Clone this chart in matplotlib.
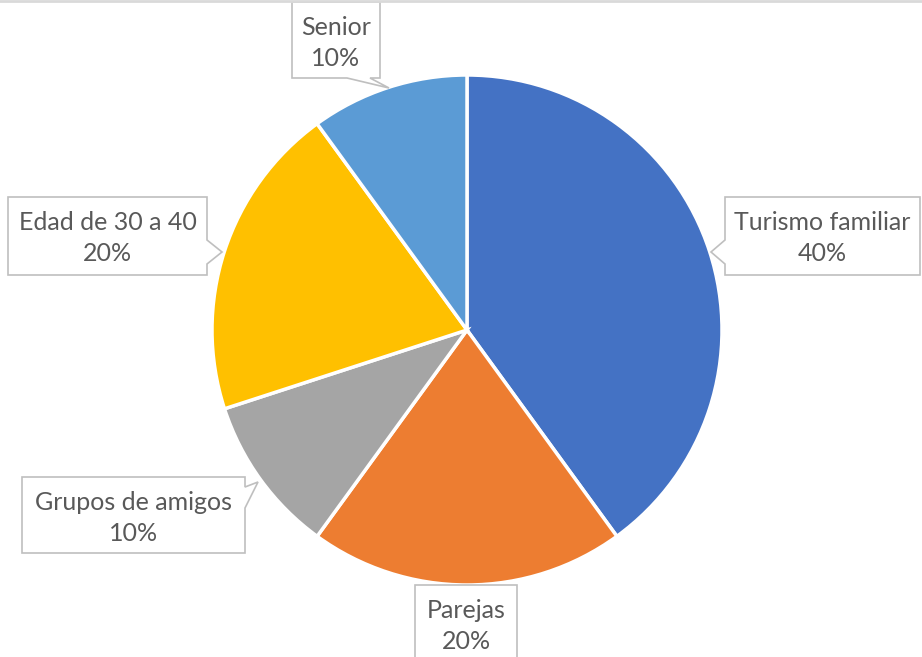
import matplotlib.pyplot as plt
from matplotlib.patches import Polygon

W, H = 922, 657

labels = ["Turismo familiar", "Parejas", "Grupos de amigos", "Edad de 30 a 40", "Senior"]
values = [40, 20, 10, 20, 10]
colors = ["#4472C4", "#ED7D31", "#A5A5A5", "#FFC000", "#5B9BD5"]

# callout boxes in pixel coords (top-down): box, side of the notch, notch span, tip
boxes = {
    "Turismo familiar": ((725, 197, 920, 275), "left", (240, 264), (711, 252)),
    "Parejas": ((415, 585, 517, 662), None, None, None),
    "Grupos de amigos": ((22, 477, 245, 553), "right", (487, 508), (258, 482)),
    "Edad de 30 a 40": ((8, 197, 207, 275), "right", (240, 264), (222, 252)),
    "Senior": ((292, 2, 380, 78), "bottom", (347, 370), (389, 88)),
}

plt.rcParams['font.family'] = ['Lato', 'DejaVu Sans']

fig = plt.figure(figsize=(W / 100, H / 100), dpi=100)
ax = fig.add_axes([0, 0, 1, 1])


def py(y):
    return H - y


ax.pie(values, colors=colors, startangle=90, counterclock=False,
       center=(467, py(330)), radius=255, frame=True,
       wedgeprops=dict(edgecolor='white', linewidth=2.5))
ax.set_xlim(0, W)
ax.set_ylim(0, H)
ax.set_aspect('equal')
ax.axis('off')


def callout(box, side, span, tip):
    x0, y0, x1, y1 = box
    if side == "left":
        pts = [(x0, y0), (x1, y0), (x1, y1), (x0, y1), (x0, span[1]), tip, (x0, span[0])]
    elif side == "right":
        pts = [(x0, y0), (x1, y0), (x1, span[0]), tip, (x1, span[1]), (x1, y1), (x0, y1)]
    elif side == "bottom":
        pts = [(x0, y0), (x1, y0), (x1, y1), (span[1], y1), tip, (span[0], y1), (x0, y1)]
    else:
        pts = [(x0, y0), (x1, y0), (x1, y1), (x0, y1)]
    pts = [(x, py(y)) for x, y in pts]
    ax.add_patch(Polygon(pts, closed=True, facecolor='white', edgecolor='#BFBFBF',
                         linewidth=1.2, zorder=5))


for lab, val in zip(labels, values):
    box, side, span, tip = boxes[lab]
    callout(box, side, span, tip)
    x0, y0, x1, y1 = box
    ax.text((x0 + x1) / 2, py(y0 + 41), f"{lab}\n{val}%", ha='center', va='center',
            fontsize=18, color='#595959', linespacing=1.38, zorder=6)

# thin frame line along the top
ax.plot([0, W], [py(1), py(1)], color='#D9D9D9', linewidth=2, zorder=7)

fig.savefig("out.png", dpi=100)
